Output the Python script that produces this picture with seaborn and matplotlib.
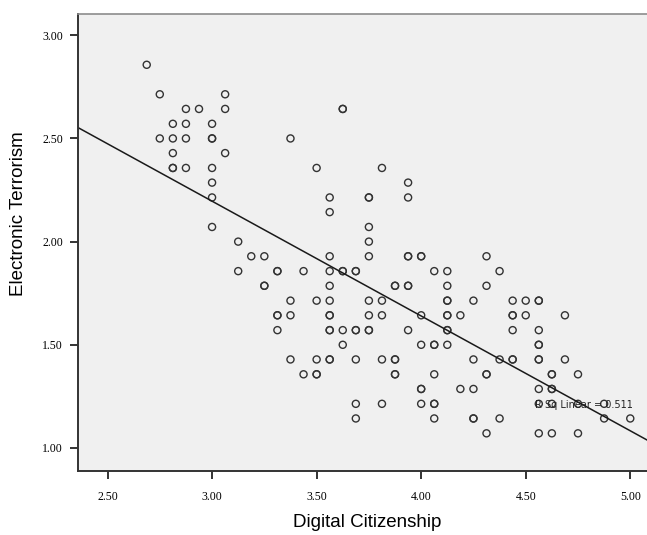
import numpy as np
import pandas as pd
import matplotlib
matplotlib.use("Agg")
import matplotlib.pyplot as plt
import seaborn as sns

# scores, row by row (duplicates = darker circles)
digital = [
    2.6875,
    2.75, 3.0625,
    2.875, 2.9375, 3.0625, 3.625, 3.625,
    2.8125, 2.875, 3.0,
    2.75, 2.8125, 2.875, 3.0, 3.0, 3.375,
    2.8125, 3.0625,
    2.8125, 2.8125, 2.875, 3.0, 3.5, 3.8125,
    3.0, 3.9375,
    3.0, 3.5625, 3.75, 3.75, 3.9375,
    3.5625,
    3.0, 3.75,
    3.125, 3.75,
    3.1875, 3.25, 3.5625, 3.75, 3.9375, 3.9375, 4.0, 4.0, 4.3125,
    3.125, 3.3125, 3.3125, 3.4375, 3.5625, 3.625, 3.625, 3.6875, 3.6875, 4.0625, 4.125, 4.375,
    3.25, 3.25, 3.5625, 3.875, 3.875, 3.9375, 3.9375, 4.125, 4.3125,
    3.375, 3.5, 3.5625, 3.75, 3.8125, 4.125, 4.125, 4.25, 4.4375, 4.5, 4.5625, 4.5625,
    3.3125, 3.3125, 3.375, 3.5625, 3.5625, 3.75, 3.8125, 4.0, 4.125, 4.125, 4.1875, 4.4375, 4.4375, 4.5, 4.6875,
    3.3125, 3.5625, 3.5625, 3.625, 3.6875, 3.6875, 3.75, 3.75, 3.9375, 4.125, 4.125, 4.4375, 4.5625,
    3.625, 4.0, 4.0625, 4.0625, 4.125, 4.5625, 4.5625,
    3.375, 3.5, 3.5625, 3.5625, 3.6875, 3.8125, 3.875, 3.875, 4.25, 4.375, 4.4375, 4.4375, 4.5625, 4.5625, 4.6875,
    3.4375, 3.5, 3.5, 3.875, 3.875, 4.0625, 4.3125, 4.3125, 4.625, 4.625, 4.75,
    4.0, 4.0, 4.1875, 4.25, 4.5625, 4.625, 4.625,
    3.6875, 3.8125, 4.0, 4.0625, 4.0625, 4.5625, 4.625, 4.75, 4.875,
    3.6875, 4.0625, 4.25, 4.25, 4.375, 4.875, 5.0,
    4.3125, 4.5625, 4.625, 4.75,
]
terror_levels = [2.857, 2.714, 2.643, 2.571, 2.5, 2.429, 2.357, 2.286, 2.214,
                 2.143, 2.071, 2.0, 1.929, 1.857, 1.786, 1.714, 1.643, 1.571,
                 1.5, 1.429, 1.357, 1.286, 1.214, 1.143, 1.071]
row_counts = [1, 2, 5, 3, 6, 2, 6, 2, 5, 1, 2, 2, 9, 12, 9, 12, 15, 13,
              7, 15, 11, 7, 9, 7, 4]
terror = [lvl for lvl, n in zip(terror_levels, row_counts) for _ in range(n)]

df = pd.DataFrame({"Digital Citizenship": digital, "Electronic Terrorism": terror})

x_ticks = [2.5, 3.0, 3.5, 4.0, 4.5, 5.0]
y_ticks = [1.0, 1.5, 2.0, 2.5, 3.0]
r2_text = "R Sq Linear = 0.511"

fig = plt.figure(figsize=(6.47, 5.35), dpi=100)
ax = fig.add_axes([0.1206, 0.1187, 0.8794, 0.8551])
ax.set_facecolor("#f0f0f0")
ax.set_xlim(2.359, 5.08)
ax.set_ylim(0.886, 3.103)

sns.regplot(data=df, x="Digital Citizenship", y="Electronic Terrorism", ax=ax,
            ci=None, truncate=False,
            scatter_kws=dict(s=26, facecolors="none", edgecolors="#333333",
                             linewidths=1.0, alpha=1),
            line_kws=dict(color="#1a1a1a", lw=1.1))
ax.set_xlim(2.359, 5.08)
ax.set_ylim(0.886, 3.103)

ax.set_xticks(x_ticks)
ax.set_yticks(y_ticks)
ax.set_xticklabels([f"{v:.2f}" for v in x_ticks], family="Liberation Serif", fontsize=8.5)
ax.set_yticklabels([f"{v:.2f}" for v in y_ticks], family="Liberation Serif", fontsize=8.5)
ax.tick_params(direction="out", length=6, width=1.4, color="#333333")
ax.tick_params(axis="x", pad=8)
ax.tick_params(axis="y", pad=5)

ax.set_xlabel("Digital Citizenship", family="Liberation Sans", fontsize=13.5)
ax.set_ylabel("Electronic Terrorism", family="Liberation Sans", fontsize=13.5)
ax.xaxis.set_label_coords(0.508, -0.093)
ax.yaxis.set_label_coords(-0.09, 0.563)

for side in ["left", "bottom"]:
    ax.spines[side].set_color("#333333")
    ax.spines[side].set_linewidth(1.4)
ax.spines["top"].set_color("#8c8c8c")
ax.spines["top"].set_linewidth(1.2)
ax.spines["right"].set_visible(False)

ax.text(4.545, 1.208, r2_text, fontsize=7, color="#222222", va="center", ha="left")

fig.savefig("out.png", dpi=100)
